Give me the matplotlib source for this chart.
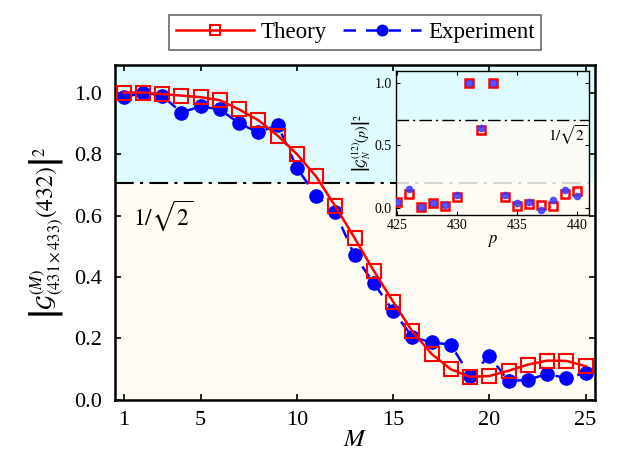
# coding: utf-8
import numpy as np
import matplotlib
matplotlib.use('Agg')
import matplotlib.pyplot as plt

plt.rcParams['font.family'] = ['Liberation Serif', 'DejaVu Serif']
plt.rcParams['mathtext.fontset'] = 'stix'

# 主图数据
M = list(range(1, 26))
theory = [1.0, 1.0, 0.995, 0.99, 0.985, 0.975, 0.945, 0.91, 0.86, 0.80,
          0.727, 0.63, 0.527, 0.42, 0.32, 0.223, 0.15, 0.10, 0.075, 0.078,
          0.095, 0.115, 0.128, 0.127, 0.11]
experiment = [0.984, 1.0, 0.99, 0.935, 0.955, 0.945, 0.90, 0.87, 0.895, 0.755,
              0.665, 0.61, 0.47, 0.38, 0.29, 0.205, 0.187, 0.18, 0.078, 0.143,
              0.062, 0.065, 0.085, 0.071, 0.088]

# 插图数据
p = list(range(425, 441))
theory_p = [0.043, 0.11, 0.008, 0.037, 0.016, 0.085, 1.0, 0.62, 1.0, 0.083,
            0.016, 0.032, 0.019, 0.016, 0.11, 0.136]
experiment_p = [0.043, 0.15, 0.008, 0.04, 0.02, 0.104, 1.0, 0.637, 1.0, 0.10,
                0.037, 0.045, -0.015, 0.064, 0.14, 0.096]

threshold = 1 / np.sqrt(2)
cyan = '#e0fbfd'
cream = '#fffcf3'

fig = plt.figure(figsize=(6.18, 4.70), dpi=100)
ax = fig.add_axes([0.186, 0.149, 0.777, 0.713])

ax.axhspan(threshold, 2, color=cyan, zorder=0, lw=0)
ax.axhspan(-1, threshold, color=cream, zorder=0, lw=0)
ax.axhline(threshold, color='k', lw=1.5, dashes=(9, 3, 1.5, 3), zorder=1)

line1, = ax.plot(M, theory, color='red', lw=1.8, marker='s', markersize=9.5,
                 markerfacecolor='none', markeredgewidth=1.5, zorder=3)
line2, = ax.plot(M, experiment, color='blue', lw=1.8, dashes=(5, 4),
                 marker='o', markersize=9.5, zorder=2)

ax.text(1.5, 0.60, r'$1/\sqrt{2}$', fontsize=17, va='center')

ax.set_xlim(0.55, 25.5)
ax.set_ylim(0, 1.09)
ax.set_xticks([1, 5, 10, 15, 20, 25])
ax.set_yticks([0, 0.2, 0.4, 0.6, 0.8, 1.0])
ax.set_yticklabels(['0.0', '0.2', '0.4', '0.6', '0.8', '1.0'])
ax.tick_params(direction='in', top=True, right=True, labelsize=16, length=4, width=1.2)
ax.tick_params(axis='y', pad=9)
ax.tick_params(axis='x', pad=8)
for s in ax.spines.values():
    s.set_linewidth(1.8)
ax.set_xlabel(r'$M$', fontsize=18, labelpad=-1)
ax.set_ylabel(r'$\left|\mathcal{G}^{(M)}_{(431\times 433)}(432)\right|^2$', fontsize=17, labelpad=6)

leg = fig.legend((line1, line2), ('Theory', 'Experiment'), loc='upper center',
                 bbox_to_anchor=(0.575, 0.993), ncol=2, fontsize=16.5, frameon=True,
                 fancybox=False, edgecolor='#444444', handlelength=3.4,
                 columnspacing=0.7, handletextpad=0.3, borderpad=0.3, markerscale=0.8)
leg.get_frame().set_linewidth(1.2)

# 插图
ins = fig.add_axes([0.641, 0.543, 0.312, 0.306])
ins.patch.set_alpha(0)
ins.axhspan(threshold, 2, color=cyan, alpha=0.8, zorder=0, lw=0)
ins.axhspan(-1, threshold, color=cream, alpha=0.85, zorder=0, lw=0)
ins.axhline(threshold, color='k', lw=1.0, dashes=(9, 3, 1.5, 3), zorder=1)
ins.plot(p, theory_p, 's', color='red', markersize=6, markerfacecolor='white',
         markeredgewidth=1.8, zorder=3)
ins.plot(p, experiment_p, 'o', color='#3c3cff', markersize=4.5, alpha=0.85, zorder=4)
ins.text(439.2, 0.58, r'$1/\sqrt{2}$', fontsize=11, ha='center', va='center')
ins.set_xlim(424.9, 441)
ins.set_ylim(-0.056, 1.096)
ins.set_xticks([425, 430, 435, 440])
ins.set_yticks([0, 0.5, 1.0])
ins.set_yticklabels(['0.0', '0.5', '1.0'])
ins.tick_params(direction='in', right=True, top=True, labelsize=10, length=3, pad=3)
for s in ins.spines.values():
    s.set_linewidth(1.0)
ins.set_xlabel(r'$p$', fontsize=12, labelpad=1)
ins.set_ylabel(r'$\left|\mathcal{G}_N^{(12)}(p)\right|^2$', fontsize=10, labelpad=2)

fig.savefig('out.png', dpi=100)
